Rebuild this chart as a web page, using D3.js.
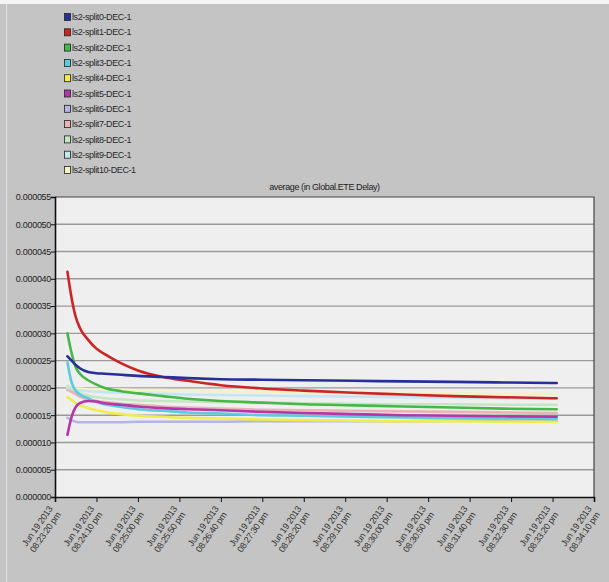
<!DOCTYPE html>
<html>
<head>
<meta charset="utf-8">
<script src="https://cdn.jsdelivr.net/npm/d3@7"></script>
<style>
  html, body { margin: 0; padding: 0; background: #c4c4c4; }
  svg { display: block; }
</style>
</head>
<body>
<svg id="sv" width="609" height="582"></svg>
<script>
// legend / series
const seriesNames = ["ls2-split0-DEC-1", "ls2-split1-DEC-1", "ls2-split2-DEC-1", "ls2-split3-DEC-1",
  "ls2-split4-DEC-1", "ls2-split5-DEC-1", "ls2-split6-DEC-1", "ls2-split7-DEC-1",
  "ls2-split8-DEC-1", "ls2-split9-DEC-1", "ls2-split10-DEC-1"];
const seriesColors = ["#25309a", "#cc2424", "#46b846", "#5ccbdc", "#eeee48", "#b436a8",
  "#b4b4e6", "#e8b4b4", "#c4e6c4", "#c4e6f2", "#f2f2c4"];

// sample times, seconds after Jun 19 2013 08:23:20 pm
const sampleSecs = [15, 20, 25, 30, 40, 50, 60, 80, 100, 130, 160, 200, 250, 300, 360, 420, 480, 540, 605];

// values in units of 1e-6
const split0 = [25.8, 25.0, 24.2, 23.6, 22.9, 22.7, 22.6, 22.4, 22.2, 22.0, 21.8, 21.6, 21.5, 21.4, 21.3, 21.2, 21.1, 21.0, 20.9];
const split1 = [41.3, 36.5, 33.0, 31.0, 28.8, 27.2, 26.2, 24.5, 23.2, 22.0, 21.3, 20.5, 19.9, 19.5, 19.1, 18.8, 18.5, 18.3, 18.1];
const split2 = [30.0, 26.4, 23.8, 22.6, 21.4, 20.6, 20.0, 19.4, 19.0, 18.5, 18.0, 17.6, 17.3, 17.0, 16.8, 16.6, 16.4, 16.2, 16.1];
const split3 = [24.7, 21.0, 19.5, 18.8, 18.1, 17.4, 17.0, 16.5, 16.1, 15.8, 15.5, 15.3, 15.0, 14.9, 14.7, 14.6, 14.5, 14.4, 14.3];
const split4 = [18.3, 17.8, 17.2, 16.8, 16.3, 15.9, 15.6, 15.2, 14.9, 14.7, 14.5, 14.4, 14.2, 14.1, 14.0, 13.9, 13.9, 13.8, 13.8];
const split5 = [11.4, 14.7, 16.5, 17.2, 17.6, 17.5, 17.2, 16.9, 16.6, 16.3, 16.1, 15.9, 15.6, 15.4, 15.2, 15.0, 14.9, 14.8, 14.7];
const split6 = [14.5, 14.1, 13.8, 13.7, 13.7, 13.7, 13.7, 13.7, 13.8, 13.8, 13.8, 13.8, 13.9, 13.9, 13.9, 13.9, 14.0, 14.0, 14.0];
const split7 = [19.6, 19.3, 18.9, 18.4, 17.9, 17.6, 17.4, 17.1, 16.9, 16.6, 16.4, 16.2, 16.0, 15.9, 15.8, 15.7, 15.6, 15.5, 15.4];
const split8 = [20.4, 19.9, 19.4, 19.0, 18.6, 18.3, 18.1, 17.9, 17.7, 17.6, 17.5, 17.4, 17.3, 17.2, 17.1, 17.0, 17.0, 16.9, 16.9];
const split9 = [19.8, 19.7, 19.6, 19.5, 19.4, 19.3, 19.2, 19.1, 19.0, 18.9, 18.8, 18.7, 18.6, 18.5, 18.4, 18.3, 18.2, 18.1, 18.0];
const split10 = [20.0, 20.0, 19.9, 19.9, 19.8, 19.8, 19.7, 19.7, 19.6, 19.6, 19.5, 19.4, 19.3, 19.2, 19.1, 19.0, 19.0, 18.9, 18.9];
const seriesValues = [split0, split1, split2, split3, split4, split5, split6, split7, split8, split9, split10];

// axis ticks
const yTicks = [0, 5, 10, 15, 20, 25, 30, 35, 40, 45, 50, 55];
const xTickLabels = ["08:23:20 pm", "08:24:10 pm", "08:25:00 pm", "08:25:50 pm", "08:26:40 pm", "08:27:30 pm",
  "08:28:20 pm", "08:29:10 pm", "08:30:00 pm", "08:30:50 pm", "08:31:40 pm", "08:32:30 pm", "08:33:20 pm", "08:34:10 pm"];
const dateLabel = "Jun 19 2013";
const chartTitle = "average (in Global.ETE Delay)";

const font = "'Liberation Sans Narrow', 'Liberation Sans', Arial, sans-serif";
const t0 = new Date(2013, 5, 19, 20, 23, 20);
const parseT = d3.timeParse("%I:%M:%S %p");
const tickDate = s => { const p = parseT(s); return new Date(2013, 5, 19, p.getHours(), p.getMinutes(), p.getSeconds()); };
const xTickDates = xTickLabels.map(tickDate);

const L = 55, R = 594, T = 197, B = 497;
const x = d3.scaleTime().domain([xTickDates[0], xTickDates[xTickDates.length - 1]]).range([L, R]);
const y = d3.scaleLinear().domain([0, 55]).range([B, T]);

const svg = d3.select("#sv");
svg.append("rect").attr("width", 609).attr("height", 582).attr("fill", "#c4c4c4");
svg.append("rect").attr("width", 609).attr("height", 4).attr("fill", "#f4f4f4");
svg.append("rect").attr("x", 6).attr("y", 4).attr("width", 1.2).attr("height", 578).attr("fill", "#dcdcdc");

// legend
const lg = svg.append("g").attr("transform", "translate(64,17)");
const li = lg.selectAll("g").data(seriesNames).enter().append("g")
  .attr("transform", (d, i) => `translate(0,${i * 15.3})`);
li.append("rect").attr("x", 0.5).attr("y", -3.5).attr("width", 6).attr("height", 7)
  .attr("fill", (d, i) => seriesColors[i]).attr("stroke", "#222").attr("stroke-width", 0.8);
li.append("text").attr("x", 8).attr("dy", ".35em").attr("font-size", 9).attr("font-family", font)
  .attr("letter-spacing", -0.4).attr("fill", "#2a2a2a").text(d => d);

// plot area
svg.append("rect").attr("x", L).attr("y", T).attr("width", R - L).attr("height", B - T).attr("fill", "#efefef");
svg.append("text").attr("x", (L + R) / 2).attr("y", T - 7).attr("text-anchor", "middle")
  .attr("font-size", 9).attr("font-family", font).attr("letter-spacing", -0.4)
  .attr("fill", "#222").text(chartTitle);

svg.append("g").selectAll("line").data(yTicks.filter(d => d > 0 && d < 55)).enter().append("line")
  .attr("x1", L).attr("x2", R).attr("y1", d => y(d)).attr("y2", d => y(d))
  .attr("stroke", "#9a9a9a").attr("stroke-width", 1.4);

// series
const line = d3.line().x(d => x(d[0])).y(d => y(d[1])).curve(d3.curveMonotoneX);
const order = [10, 9, 8, 6, 7, 4, 3, 5, 2, 1, 0];
svg.append("g").selectAll("path").data(order).enter().append("path")
  .attr("fill", "none").attr("stroke", i => seriesColors[i]).attr("stroke-width", 2.6)
  .attr("stroke-linejoin", "round").attr("stroke-linecap", "round")
  .attr("d", i => line(sampleSecs.map((s, k) => [new Date(+t0 + s * 1000), seriesValues[i][k]])));

// frame
svg.append("path").attr("d", `M${L},${T}H${R}V${B}`).attr("fill", "none").attr("stroke", "#444").attr("stroke-width", 1.2);

// y axis
const ya = svg.append("g").attr("transform", `translate(${L},0)`)
  .call(d3.axisLeft(y).tickValues(yTicks).tickSize(4).tickFormat(d => (d * 1e-6).toFixed(6)));
ya.select(".domain").attr("stroke", "#111").attr("stroke-width", 1.6);
ya.selectAll(".tick line").attr("stroke", "#111");
ya.selectAll("text").attr("font-size", 9).attr("font-family", font).attr("letter-spacing", -0.3)
  .attr("fill", "#222").attr("x", -4);

// x axis
const xa = svg.append("g").attr("transform", `translate(0,${B})`)
  .call(d3.axisBottom(x).tickValues(xTickDates).tickSize(5).tickFormat(""));
xa.select(".domain").attr("stroke", "#111").attr("stroke-width", 1.6);
xa.selectAll(".tick line").attr("stroke", "#111");

const xl = svg.append("g").selectAll("g").data(xTickLabels).enter().append("g")
  .attr("transform", (d, i) => `translate(${x(xTickDates[i]) - 2},${B + 12}) rotate(-55)`);
xl.append("text").attr("text-anchor", "end").attr("font-size", 9).attr("font-family", font)
  .attr("letter-spacing", -0.3).attr("fill", "#333").text(dateLabel);
xl.append("text").attr("text-anchor", "end").attr("y", 10).attr("font-size", 9).attr("font-family", font)
  .attr("letter-spacing", -0.3).attr("fill", "#333").text(d => d);
</script>
</body>
</html>
